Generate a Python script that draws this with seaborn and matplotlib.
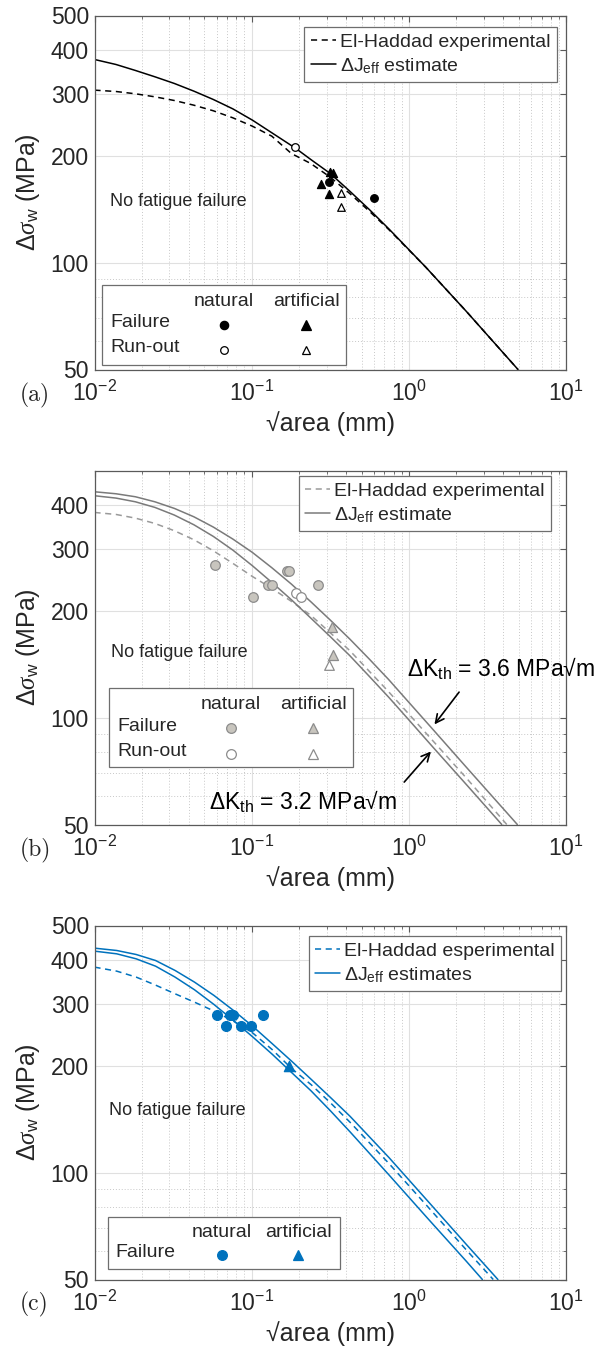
import numpy as np
import pandas as pd
import matplotlib
matplotlib.use("Agg")
import matplotlib.pyplot as plt
import seaborn as sns
from matplotlib.patches import Rectangle
from matplotlib.ticker import FixedLocator, FixedFormatter, NullFormatter, LogLocator

# ---------------- data ----------------
# panel (a)
a_haddad_x = [0.01, 0.01369, 0.01821, 0.02423, 0.03224, 0.04288, 0.05706, 0.07591, 0.1010, 0.1343,
              0.1788, 0.2377, 0.3163, 0.4208, 0.5599, 0.7448, 1.281, 2.333, 4.95]
a_haddad_y = [307.7, 305, 300.5, 294.6, 287.6, 279, 269, 257, 243.4, 228.1,
              203.8, 190.9, 174.7, 157.1, 140.1, 124.3, 97.3, 72.8, 50]
a_jeff_x = [0.01, 0.01369, 0.01821, 0.02423, 0.03224, 0.04288, 0.05706, 0.07591, 0.1010, 0.1343,
            0.1913, 0.2377, 0.3163, 0.4208, 0.5599, 0.7448, 1.281, 2.333, 4.95]
a_jeff_y = [375.6, 363.6, 349.7, 335.6, 321.3, 305.7, 289.5, 272.4, 253.2, 233.2,
            210.5, 196, 178.9, 159.5, 141.6, 124.9, 97.3, 72.8, 50]
a_nat_fail_x = [0.309, 0.60]
a_nat_fail_y = [169, 153]
a_nat_run_x = [0.19]
a_nat_run_y = [212]
a_art_fail_x = [0.315, 0.327, 0.275, 0.312]
a_art_fail_y = [181, 180, 167, 157]
a_art_run_x = [0.37, 0.37]
a_art_run_y = [158, 144]

# panel (b)
b_haddad_x = [0.01, 0.01369, 0.01821, 0.02423, 0.03224, 0.04288, 0.05706, 0.07591, 0.1010, 0.1343,
              0.1788, 0.2377, 0.3163, 0.4208, 0.5599, 0.7448, 0.9909, 2.333, 4.2]
b_haddad_y = [380.6, 375.7, 366.8, 354.3, 337.9, 318.7, 296.6, 273.3, 251.0, 232.3,
              213.5, 195, 174, 155, 135.5, 118.5, 103, 67.5, 50]
b_jeff_hi_x = [0.01, 0.01369, 0.01821, 0.02423, 0.03224, 0.04288, 0.05706, 0.07591, 0.1010, 0.1343,
               0.1788, 0.2377, 0.3163, 0.4208, 0.5599, 0.7448, 0.9909, 1.420, 2.333, 4.901]
b_jeff_hi_y = [435.4, 429.8, 421.5, 407.9, 390.7, 370.0, 346.0, 320.1, 293.5, 265.7,
               238.9, 213.0, 189.0, 167.1, 146.7, 128.3, 111.2, 92.9, 72.4, 50]
b_jeff_lo_x = [0.01, 0.01369, 0.01821, 0.02423, 0.03224, 0.04288, 0.05706, 0.07591, 0.1010, 0.1343,
               0.1788, 0.2377, 0.3163, 0.4208, 0.5599, 0.7448, 0.9909, 1.420, 2.333, 3.902]
b_jeff_lo_y = [424.3, 417.9, 407.9, 393.3, 374.1, 351.3, 325.6, 297.9, 269.2, 241.5,
               215.8, 191.5, 169.7, 150.0, 131.1, 114.4, 99.2, 82.8, 64.7, 50]
b_nat_fail_x = [0.0587, 0.1027, 0.1269, 0.1343, 0.167, 0.1737, 0.2635]
b_nat_fail_y = [270, 220, 238, 238, 260, 260, 238]
b_nat_run_x = [0.191, 0.206]
b_nat_run_y = [225, 219]
b_art_fail_x = [0.3255, 0.331]
b_art_fail_y = [181, 151]
b_art_run_x = [0.311]
b_art_run_y = [141]

# panel (c)
c_haddad_x = [0.01, 0.01384, 0.0184, 0.02446, 0.03253, 0.04326, 0.05753, 0.0765, 0.1017, 0.1353,
              0.1799, 0.2392, 0.318, 0.4229, 0.7478, 1.322, 2.338, 3.444]
c_haddad_y = [381.4, 371.6, 357.5, 339.3, 320.7, 303.7, 286.7, 268.5, 248.4, 222.9,
              197.1, 177.5, 157.6, 139.0, 106.3, 80.2, 60.4, 50]
c_jeff_hi_x = [0.01, 0.01384, 0.0184, 0.02446, 0.03253, 0.04326, 0.05753, 0.0765, 0.1017, 0.1353,
               0.1799, 0.2392, 0.318, 0.4229, 0.7478, 1.322, 2.338, 3.688]
c_jeff_hi_y = [431.5, 425.0, 414.1, 398.2, 373.3, 346.0, 317.3, 287.9, 259.4, 231.7,
               206.7, 183.8, 163.2, 144.5, 110.5, 83.2, 62.6, 50]
c_jeff_lo_x = [0.01, 0.01384, 0.0184, 0.02446, 0.03253, 0.04326, 0.05753, 0.0765, 0.1017, 0.1353,
               0.1799, 0.2392, 0.318, 0.4229, 0.7478, 1.322, 2.338, 2.937]
c_jeff_lo_y = [423.2, 415.9, 402.6, 383.8, 357.5, 329.2, 299.2, 269.7, 242.1, 216.3,
               192.0, 170.4, 149.6, 130.6, 98.7, 74.3, 56.1, 50]
c_nat_fail_x = [0.0602, 0.0683, 0.0723, 0.0756, 0.0857, 0.0989, 0.1187]
c_nat_fail_y = [280, 260, 280, 280, 260, 260, 280]
c_art_fail_x = [0.173]
c_art_fail_y = [200]

y_ticks_ac = [50, 100, 200, 300, 400, 500]
y_ticks_b = [50, 100, 200, 300, 400]
x_ticks = [1e-2, 1e-1, 1e0, 1e1]

# ---------------- style ----------------
sns.set_theme(style="white")
plt.rcParams["font.family"] = ["Liberation Sans", "DejaVu Sans"]
plt.rcParams["mathtext.fontset"] = "custom"
plt.rcParams["mathtext.rm"] = "Liberation Sans"
plt.rcParams["mathtext.sf"] = "Liberation Sans"
plt.rcParams["mathtext.it"] = "Liberation Serif:italic"
plt.rcParams["mathtext.bf"] = "Liberation Sans:bold"

TXT = "#262626"
SPINE = "#5a5a5a"
BLUE = "#0072BD"
GRAY_L = "#7a7a7a"
GRAY_F = "#c8c5be"
GRAY_E = "#8c8c8c"

fig = plt.figure(figsize=(6.08, 13.52), dpi=100)
L, W, H = 94.5 / 608, 471.5 / 608, 354 / 1352
tops = [15.5, 470.5, 925.5]
axes = [fig.add_axes([L, 1 - (t + 354) / 1352, W, H]) for t in tops]


def setup(ax, yt):
    ax.set_xscale("log")
    ax.set_yscale("log")
    ax.set_xlim(1e-2, 1e1)
    ax.set_ylim(50, 500)
    ax.xaxis.set_major_locator(FixedLocator(x_ticks))
    ax.xaxis.set_minor_locator(LogLocator(base=10, subs=np.arange(2, 10), numticks=30))
    ax.xaxis.set_minor_formatter(NullFormatter())
    ax.yaxis.set_major_locator(FixedLocator(yt))
    ax.yaxis.set_major_formatter(FixedFormatter([str(v) for v in yt]))
    ax.yaxis.set_minor_locator(FixedLocator([60, 70, 80, 90]))
    ax.yaxis.set_minor_formatter(NullFormatter())
    ax.grid(True, which="major", color="#e0e0e0", lw=0.8, ls="-")
    ax.grid(True, which="minor", color="#c8c8c8", lw=0.7, ls=(0, (1, 2)))
    ax.set_axisbelow(True)
    for s in ax.spines.values():
        s.set_color(SPINE)
        s.set_linewidth(0.9)
    ax.tick_params(which="both", direction="in", top=True, right=True, color=SPINE,
                   labelcolor=TXT, labelsize=16.5)
    ax.tick_params(axis="x", which="both", pad=8)
    ax.tick_params(axis="y", which="both", pad=4)
    ax.tick_params(which="major", length=4, width=0.8)
    ax.tick_params(which="minor", length=2, width=0.6)
    ax.set_xlabel("√area (mm)", fontsize=18, color=TXT, labelpad=4)
    ax.set_ylabel(r"Δ$\sigma_{\mathrm{w}}$ (MPa)", fontsize=18, color=TXT, labelpad=6)


def line(ax, x, y, color, dashed=False, lw=1.1):
    df = pd.DataFrame({"x": x, "y": y})
    kw = dict(ls=(0, (4, 3))) if dashed else dict(ls="-")
    sns.lineplot(data=df, x="x", y="y", ax=ax, color=color, lw=lw, estimator=None,
                 sort=False, legend=False, **kw)
    return ax.lines[-1]


def pts(ax, x, y, marker, size, face, edge, lw=0.9):
    sns.scatterplot(x=x, y=y, ax=ax, marker=marker, s=size, color=face, edgecolor=edge,
                    linewidth=lw, legend=False, zorder=5)


def top_legend(ax, h1, h2, lab1, lab2, anchor):
    lg = ax.legend([h1, h2], [lab1, r"Δ$\mathrm{J}_{\mathrm{eff}}$ " + lab2],
                   loc="upper right", bbox_to_anchor=anchor, borderaxespad=0, frameon=True,
                   fancybox=False, edgecolor="#6e6e6e", framealpha=1, fontsize=14,
                   handlelength=1.3, handletextpad=0.2, borderpad=0.32, labelspacing=0.25)
    lg.get_frame().set_linewidth(0.9)
    for t in lg.get_texts():
        t.set_color(TXT)


def marker_legend(ax, box, head_y, col_x, rows, fs=14):
    x0, y0, x1, y1 = box
    ax.add_patch(Rectangle((x0, y0), x1 - x0, y1 - y0, transform=ax.transAxes, fill=True,
                           facecolor="white", edgecolor="#6e6e6e", lw=0.9, zorder=6))
    ax.text(col_x[0], head_y, "natural", transform=ax.transAxes, ha="center", va="center",
            fontsize=fs, color=TXT, zorder=7)
    ax.text(col_x[1], head_y, "artificial", transform=ax.transAxes, ha="center", va="center",
            fontsize=fs, color=TXT, zorder=7)
    for lab, lx, ry, specs in rows:
        ax.text(lx, ry, lab, transform=ax.transAxes, ha="left", va="center", fontsize=fs,
                color=TXT, zorder=7)
        for cx, (mk, ms, fc, ec) in zip(col_x, specs):
            ax.plot([cx], [ry - 0.006], marker=mk, ms=ms, mfc=fc, mec=ec, mew=0.9,
                    transform=ax.transAxes, clip_on=False, zorder=7, ls="none")


# ---------------- panel (a) ----------------
ax = axes[0]
setup(ax, y_ticks_ac)
h_d = line(ax, a_haddad_x, a_haddad_y, "black", dashed=True)
h_s = line(ax, a_jeff_x, a_jeff_y, "black")
pts(ax, a_nat_fail_x, a_nat_fail_y, "o", 30, "black", "black")
pts(ax, a_nat_run_x, a_nat_run_y, "o", 30, "white", "black")
pts(ax, a_art_fail_x, a_art_fail_y, "^", 34, "black", "black")
pts(ax, a_art_run_x, a_art_run_y, "^", 30, "white", "black")
top_legend(ax, h_d, h_s, "El-Haddad experimental", "estimate", (0.98, 0.967))
marker_legend(ax, (0.016, 0.013, 0.533, 0.239), 0.1915, (0.2747, 0.4486),
              [("Failure", 0.033, 0.132, [("o", 6, "black", "black"), ("^", 6.5, "black", "black")]),
               ("Run-out", 0.033, 0.061, [("o", 5.5, "white", "black"), ("^", 6, "white", "black")])])
ax.text(0.033, 0.474, "No fatigue failure", transform=ax.transAxes, fontsize=13,
        color=TXT, va="center", ha="left")

# ---------------- panel (b) ----------------
ax = axes[1]
setup(ax, y_ticks_b)
h_d = line(ax, b_haddad_x, b_haddad_y, "#9a9a9a", dashed=True)
h_s = line(ax, b_jeff_hi_x, b_jeff_hi_y, GRAY_L)
line(ax, b_jeff_lo_x, b_jeff_lo_y, GRAY_L)
pts(ax, b_nat_fail_x, b_nat_fail_y, "o", 48, GRAY_F, GRAY_E)
pts(ax, b_nat_run_x, b_nat_run_y, "o", 48, "white", GRAY_E)
pts(ax, b_art_fail_x, b_art_fail_y, "^", 52, GRAY_F, GRAY_E)
pts(ax, b_art_run_x, b_art_run_y, "^", 48, "white", GRAY_E)
top_legend(ax, h_d, h_s, "El-Haddad experimental", "estimate", (0.968, 0.984))
marker_legend(ax, (0.031, 0.162, 0.548, 0.386), 0.3376, (0.2895, 0.4634),
              [("Failure", 0.048, 0.278, [("o", 7, GRAY_F, GRAY_E), ("^", 7.5, GRAY_F, GRAY_E)]),
               ("Run-out", 0.048, 0.205, [("o", 7, "white", GRAY_E), ("^", 7, "white", GRAY_E)])])
ax.text(0.035, 0.4845, "No fatigue failure", transform=ax.transAxes, fontsize=13,
        color=TXT, va="center", ha="left")
ax.annotate("", xy=(1.42, 94.5), xytext=(2.14, 120),
            arrowprops=dict(arrowstyle="->,head_length=0.5,head_width=0.25", color="black", lw=1.2))
ax.annotate("", xy=(1.42, 81.5), xytext=(0.91, 65),
            arrowprops=dict(arrowstyle="->,head_length=0.5,head_width=0.25", color="black", lw=1.2))
ax.text(0.98, 138, r"Δ$\mathrm{K}_{\mathrm{th}}$ = 3.6 MPa√m", fontsize=16.5, color="black",
        ha="left", va="center", clip_on=False)
ax.text(0.0539, 57.8, r"Δ$\mathrm{K}_{\mathrm{th}}$ = 3.2 MPa√m", fontsize=16.5, color="black",
        ha="left", va="center", clip_on=False)

# ---------------- panel (c) ----------------
ax = axes[2]
setup(ax, y_ticks_ac)
h_d = line(ax, c_haddad_x, c_haddad_y, BLUE, dashed=True)
h_s = line(ax, c_jeff_hi_x, c_jeff_hi_y, BLUE)
line(ax, c_jeff_lo_x, c_jeff_lo_y, BLUE)
pts(ax, c_nat_fail_x, c_nat_fail_y, "o", 50, BLUE, BLUE)
pts(ax, c_art_fail_x, c_art_fail_y, "^", 55, BLUE, BLUE)
top_legend(ax, h_d, h_s, "El-Haddad esperimental", "estimates", (0.989, 0.970))
marker_legend(ax, (0.029, 0.029, 0.520, 0.176), 0.1314, (0.2704, 0.4316),
              [("Failure", 0.0435, 0.0757, [("o", 7, BLUE, BLUE), ("^", 7.5, BLUE, BLUE)])])
ax.text(0.031, 0.4768, "No fatigue failure", transform=ax.transAxes, fontsize=13,
        color=TXT, va="center", ha="left")

# panel letters
for lab, yp in zip(["(a)", "(b)", "(c)"], [395, 850, 1304]):
    fig.text(20 / 608, 1 - yp / 1352, lab, fontsize=17, family="cmr10", color=TXT,
             ha="left", va="center")

fig.savefig("out.png", dpi=100)
